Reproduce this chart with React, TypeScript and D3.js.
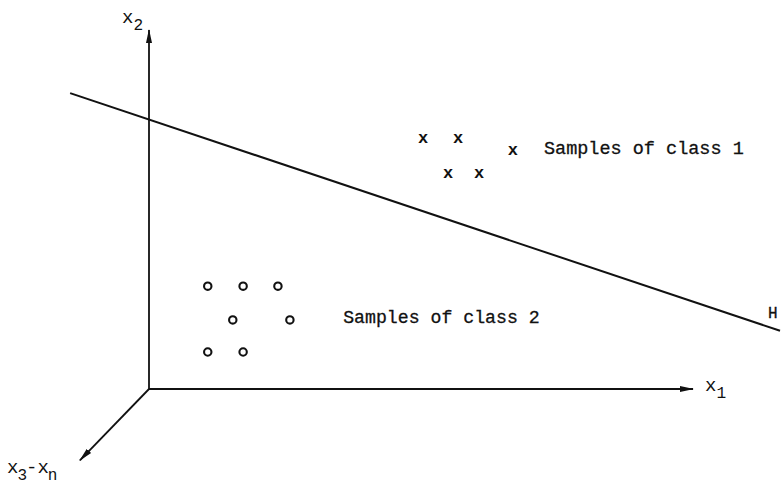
import React, { useRef, useEffect } from 'react'
import * as d3 from 'd3'

// feature space values
const class1X = [5.04, 5.68, 6.69, 5.5, 6.07]
const class1Y = [4.61, 4.61, 4.39, 3.97, 3.97]
const class2X = [1.08, 1.73, 2.37, 1.54, 2.59, 1.08, 1.73]
const class2Y = [1.89, 1.89, 1.89, 1.27, 1.27, 0.68, 0.68]
const boundaryX = [-1.45, 11.6]
const boundaryY = [5.44, 1.07]
const axisEnd = { x1: 10, x2: 6.6, depthX: -1.27, depthY: -1.31 }
const labels = ['Samples of class 1', 'Samples of class 2', 'H']

const App = () => {
    const reg = useRef<SVGSVGElement>(null)
    useEffect(() => {
        const w = 781
        const h = 488
        const ink = '#111'
        const mono = '"Liberation Mono", "DejaVu Sans Mono", monospace'
        const svg = d3.select(reg.current)
            .attr('width', w)
            .attr('height', h)
            .style('background', 'white')
            .style('display', 'block')
        svg.selectAll('*').remove()

        const x = d3.scaleLinear().domain([0, 10]).range([149, 693])
        const y = d3.scaleLinear().domain([0, 6.6]).range([389, 30])

        // arrowhead
        svg.append('defs').append('marker')
            .attr('id', 'arr')
            .attr('viewBox', '0 0 14 8')
            .attr('refX', 13)
            .attr('refY', 4)
            .attr('markerWidth', 14)
            .attr('markerHeight', 8)
            .attr('markerUnits', 'userSpaceOnUse')
            .attr('orient', 'auto')
            .append('path')
            .attr('d', 'M0,1 L14,4 L0,7 Z')
            .attr('fill', ink)

        const axes = [
            [0, 0, axisEnd.x1, 0],
            [0, 0, 0, axisEnd.x2],
            [0, 0, axisEnd.depthX, axisEnd.depthY],
        ]
        svg.append('g').selectAll('line')
            .data(axes)
            .join('line')
            .attr('x1', d => x(d[0]))
            .attr('y1', d => y(d[1]))
            .attr('x2', d => x(d[2]))
            .attr('y2', d => y(d[3]))
            .attr('stroke', ink)
            .attr('stroke-width', 1.8)
            .attr('marker-end', 'url(#arr)')

        // decision boundary
        const pts = boundaryX.map((v, i) => [v, boundaryY[i]] as [number, number])
        svg.append('path')
            .attr('d', d3.line().x(d => x(d[0])).y(d => y(d[1]))(pts))
            .attr('fill', 'none')
            .attr('stroke', ink)
            .attr('stroke-width', 2)

        // samples
        const c1 = class1X.map((v, i) => ({ x: v, y: class1Y[i] }))
        const c2 = class2X.map((v, i) => ({ x: v, y: class2Y[i] }))
        svg.append('g').selectAll('text')
            .data(c1)
            .join('text')
            .attr('x', d => x(d.x))
            .attr('y', d => y(d.y) + 5)
            .attr('text-anchor', 'middle')
            .attr('font-family', mono)
            .attr('font-weight', 'bold')
            .attr('font-size', 17)
            .attr('fill', ink)
            .text('x')
        svg.append('g').selectAll('circle')
            .data(c2)
            .join('circle')
            .attr('cx', d => x(d.x))
            .attr('cy', d => y(d.y))
            .attr('r', 3.7)
            .attr('fill', 'none')
            .attr('stroke', ink)
            .attr('stroke-width', 2.1)

        const txt = (tx: number, ty: number, s: string, size = 18.5) =>
            svg.append('text')
                .attr('x', tx)
                .attr('y', ty)
                .attr('font-family', mono)
                .attr('font-size', size)
                .attr('fill', ink)
                .attr('stroke', ink)
                .attr('stroke-width', 0.3)
                .text(s)

        txt(x(7.26), y(4.32), labels[0])
        txt(x(3.57), y(1.21), labels[1], 18.2)
        txt(768, 318, labels[2], 16)

        // axis labels with subscripts
        const sub = (tx: number, ty: number, base: string, s: string, size = 19) => {
            const t = svg.append('text')
                .attr('x', tx)
                .attr('y', ty)
                .attr('font-family', mono)
                .attr('font-size', size)
                .attr('fill', ink)
            t.append('tspan').text(base)
            t.append('tspan').attr('dy', 7).attr('font-size', size * 0.85).text(s)
            return t
        }
        sub(x(axisEnd.x1) + 12, y(0) + 2, 'x', '1')
        sub(122, 23, 'x', '2')
        const t3 = svg.append('text')
            .attr('x', 7)
            .attr('y', 473)
            .attr('font-family', mono)
            .attr('font-size', 19)
            .attr('fill', ink)
        t3.append('tspan').text('x')
        t3.append('tspan').attr('dy', 7).attr('font-size', 16).attr('dx', -1).text('3')
        t3.append('tspan').attr('dy', -7).attr('dx', -1).text('-x')
        t3.append('tspan').attr('dy', 7).attr('font-size', 16).attr('dx', -1).text('n')
    }, [])
    return (
        <div>
            <style>{'body{margin:0}'}</style>
            <svg ref={reg}></svg>
        </div>
    )
}

export default App
